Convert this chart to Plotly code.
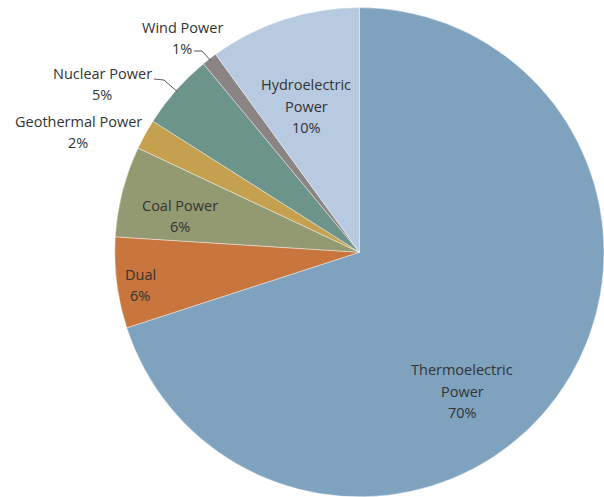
import math
import plotly.graph_objects as go

# Electricity generation mix by source (percent)
sources = ["Thermoelectric Power", "Dual", "Coal Power", "Geothermal Power",
           "Nuclear Power", "Wind Power", "Hydroelectric Power"]
shares = [70, 6, 6, 2, 5, 1, 10]
colors = ["#7fa3bf", "#c9753e", "#939a72", "#c5a14f", "#6c948a", "#8b8485", "#b7cadf"]

# Label text lines per slice
label_lines = {
    "Thermoelectric Power": ["Thermoelectric", "Power"],
    "Dual": ["Dual"],
    "Coal Power": ["Coal Power"],
    "Geothermal Power": ["Geothermal Power"],
    "Nuclear Power": ["Nuclear Power"],
    "Wind Power": ["Wind Power"],
    "Hydroelectric Power": ["Hydroelectric", "Power"],
}
# Label block centres in pixels
label_pos = {
    "Thermoelectric Power": (462, 391),
    "Dual": (140, 285),
    "Coal Power": (180, 216),
    "Geothermal Power": (78, 132),
    "Nuclear Power": (102, 84),
    "Wind Power": (182, 38),
    "Hydroelectric Power": (306, 106),
}
# Leader line start points (pixels) for the small outside labels
leader_start = {
    "Nuclear Power": [(154, 79), (164, 80)],
    "Wind Power": [(194, 51), (202, 51)],
}

W, H = 604, 497
dom_x = [0.19, 1.0]
dom_y = [0.0, 0.985]
cx = (dom_x[0] + dom_x[1]) / 2 * W
cy = H - (dom_y[0] + dom_y[1]) / 2 * H
r = min((dom_x[1] - dom_x[0]) * W, (dom_y[1] - dom_y[0]) * H) / 2

def px(x, y):
    return x / W, 1 - y / H

fig = go.Figure(go.Pie(
    labels=sources,
    values=shares,
    sort=False,
    direction="clockwise",
    rotation=0,
    marker=dict(colors=colors, line=dict(color="rgba(255,255,255,0.5)", width=0.8)),
    textinfo="none",
    hoverinfo="label+percent",
    domain=dict(x=dom_x, y=dom_y),
    showlegend=False,
))

font = dict(family="'Open Sans', sans-serif", size=14.5, color="#333333")
line_gap = 21.5
annotations = []
shapes = []
total = sum(shares)
cum = 0
for name, val in zip(sources, shares):
    lines = label_lines[name] + [f"{round(val / total * 100)}%"]
    bx, by = label_pos[name]
    top = by - line_gap * (len(lines) - 1) / 2
    for i, t in enumerate(lines):
        x, y = px(bx, top + i * line_gap)
        annotations.append(dict(x=x, y=y, xref="paper", yref="paper", text=t,
                                showarrow=False, font=font,
                                xanchor="center", yanchor="middle"))
    mid = (cum + val / 2) / total * 2 * math.pi
    if name in leader_start:
        ex = cx + r * 0.99 * math.sin(mid)
        ey = cy - r * 0.99 * math.cos(mid)
        pts = leader_start[name] + [(ex, ey)]
        path = "M " + " L ".join(f"{px(a, b)[0]},{px(a, b)[1]}" for a, b in pts)
        shapes.append(dict(type="path", path=path, xref="paper", yref="paper",
                           line=dict(color="#595959", width=1)))
    cum += val

fig.update_layout(
    width=W, height=H,
    margin=dict(l=0, r=0, t=0, b=0),
    paper_bgcolor="white",
    annotations=annotations,
    shapes=shapes,
)

fig.write_html("out.html")
